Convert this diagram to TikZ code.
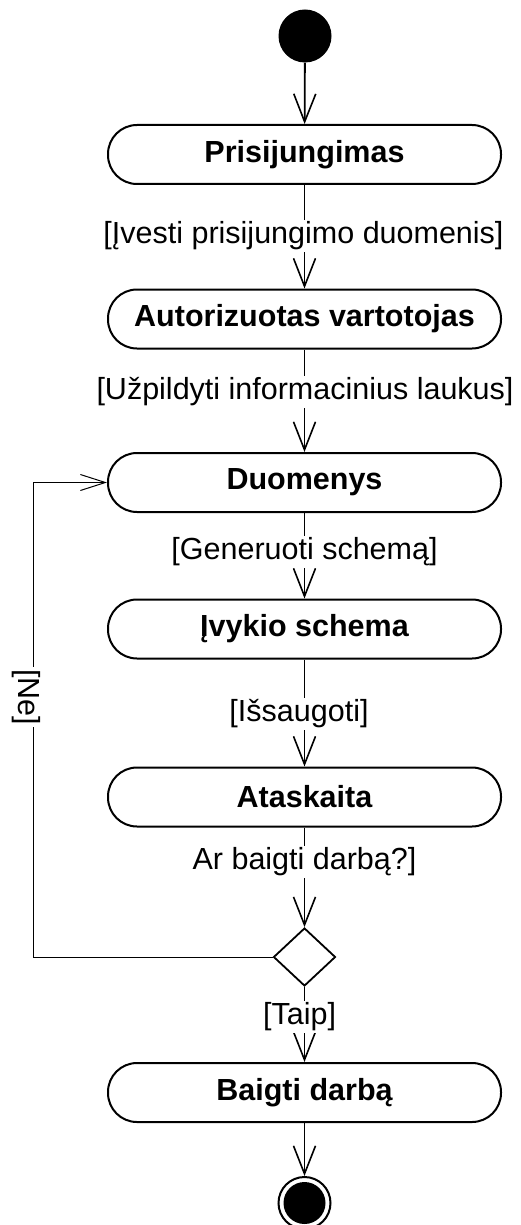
\documentclass[tikz,border=0pt]{standalone}
\usepackage{fontspec}
\setmainfont{Liberation Sans}
\usetikzlibrary{arrows.meta,shapes.geometric}
\begin{document}
\begin{tikzpicture}[x=1pt,y=1pt,
  act/.style={draw, line width=2pt, rounded corners=29pt, minimum width=393pt, minimum height=59pt, inner sep=0pt, font=\fontsize{30.5}{36}\selectfont\bfseries},
  lbl/.style={fill=white, inner sep=2pt, font=\fontsize{30.5}{36}\selectfont},
  flow/.style={line width=1.8pt, -{Straight Barb[length=28pt,width=22pt,line width=1.6pt]}},
  back/.style={line width=1pt, -{Straight Barb[length=25pt,width=16pt,line width=1pt]}},
  dot/.style={circle, fill=black, inner sep=0pt}
]
\useasboundingbox (0,0) rectangle (521,-1225);
\node[dot, minimum size=53pt] (start) at (305,-36) {};
\node[act] (b1) at (304.5,-154.5) {Prisijungimas};
\node[act] (b2) at (304.5,-319) {Autorizuotas vartotojas};
\node[act] (b3) at (304.5,-482.5) {Duomenys};
\node[act] (b4) at (304.5,-629) {Įvykio schema};
\node[act] (b5) at (304.5,-797) {Ataskaita};
\node[draw, diamond, line width=1.8pt, minimum width=62pt, minimum height=58pt, inner sep=0pt] (dec) at (304.5,-957) {};
\node[act] (b6) at (304.5,-1092.5) {Baigti darbą};
\node[circle, draw, line width=2pt, minimum size=52pt, inner sep=0pt] (end) at (304.5,-1203) {};
\node[dot, minimum size=42pt] (endin) at (end) {};
\draw[flow] (start) -- (b1);
\draw[flow] (b1) -- (b2);
\draw[flow] (b2) -- (b3);
\draw[flow] (b3) -- (b4);
\draw[flow] (b4) -- (b5);
\draw[flow] (b5) -- (dec);
\draw[flow] (dec) -- (b6);
\draw[flow] (b6) -- (end);
\coordinate (lc) at (33,-957);
\draw[back] (dec.west) -- (lc) |- (b3.west);
\node[lbl] (g1) at (303.5,-236) {[Įvesti prisijungimo duomenis]};
\node[lbl] (g2) at (305,-392) {[Užpildyti informacinius laukus]};
\node[lbl] (g3) at (304.5,-552) {[Generuoti schemą]};
\node[lbl] (g4) at (299,-714) {[Išsaugoti]};
\node[lbl] (g5) at (304.5,-862) {Ar baigti darbą?]};
\node[lbl] (g6) at (299.5,-1017) {[Taip]};
\node[lbl, rotate=-90] (g7) at (26,-697) {[Ne]};
\end{tikzpicture}
\end{document}
